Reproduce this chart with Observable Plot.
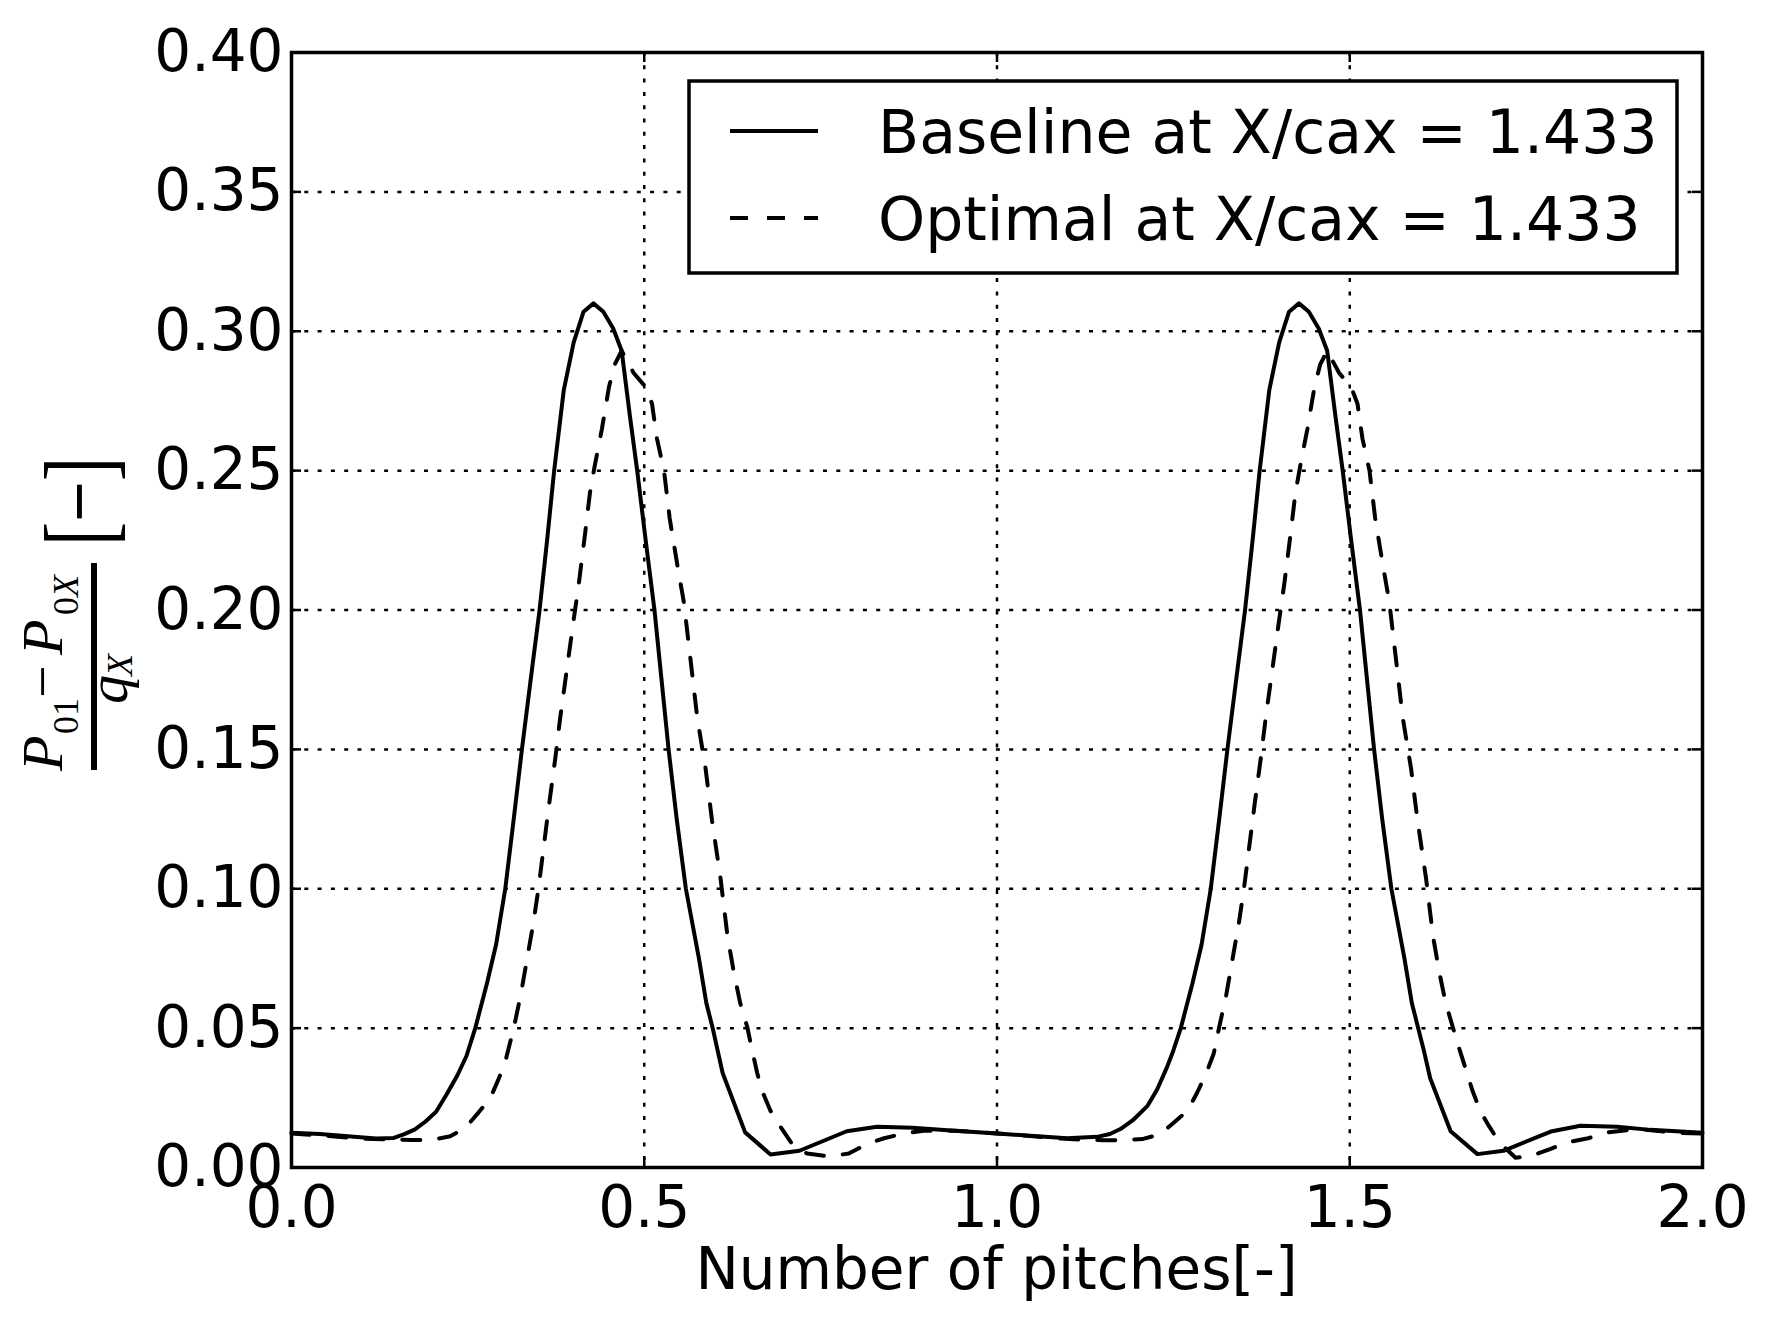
<!DOCTYPE html>
<html>
<head>
<meta charset="utf-8">
<script src="https://cdn.jsdelivr.net/npm/d3@7"></script>
<script src="https://cdn.jsdelivr.net/npm/@observablehq/plot@0.6"></script>
<style>
  html, body { margin: 0; padding: 0; background: white; }
  #chart svg { display: block; }
</style>
</head>
<body>
<div id="chart"></div>
<script>
// ---- tick positions and labels ----
const xTicks = [0, 0.5, 1.0, 1.5, 2.0];
const xTickLabels = ["0.0", "0.5", "1.0", "1.5", "2.0"];
const yTicks = [0, 0.05, 0.10, 0.15, 0.20, 0.25, 0.30, 0.35, 0.40];
const yTickLabels = ["0.00", "0.05", "0.10", "0.15", "0.20", "0.25", "0.30", "0.35", "0.40"];

const seriesNames = ["Baseline at X/cax = 1.433", "Optimal at X/cax = 1.433"];
const xLabel = "Number of pitches[-]";

// ---- Baseline (solid) ----
const baselineX = [
  0.00, 0.04, 0.08, 0.12, 0.145, 0.16, 0.175, 0.19, 0.205, 0.22, 0.235, 0.248, 0.2605, 0.277, 0.29,
  0.303, 0.315, 0.3266, 0.339, 0.3516, 0.3623, 0.3723, 0.386, 0.400, 0.414, 0.428, 0.442, 0.456, 0.468,
  0.480, 0.490, 0.502, 0.5145, 0.5245, 0.5345, 0.546, 0.559, 0.5775, 0.588, 0.597, 0.611, 0.643, 0.679,
  0.720, 0.787, 0.830, 0.880, 0.930,
  1.000, 1.047, 1.0995, 1.142, 1.16, 1.175, 1.194, 1.213, 1.227, 1.241, 1.25, 1.2605, 1.277, 1.29,
  1.303, 1.315, 1.3266, 1.339, 1.3516, 1.3623, 1.3723, 1.386, 1.400, 1.414, 1.428, 1.442, 1.456, 1.468,
  1.480, 1.490, 1.502, 1.5145, 1.5245, 1.5345, 1.546, 1.559, 1.5775, 1.588, 1.597, 1.605, 1.614, 1.643,
  1.681, 1.718, 1.785, 1.827, 1.879, 1.926, 2.000
];
const baselineY = [
  0.0125, 0.0120, 0.0112, 0.0104, 0.0106, 0.0120, 0.0137, 0.0165, 0.0200, 0.0263, 0.0330, 0.0400, 0.0500, 0.0660, 0.0800,
  0.1000, 0.1250, 0.1500, 0.1750, 0.2000, 0.2250, 0.2500, 0.2790, 0.2960, 0.3070, 0.3100, 0.3070, 0.3010, 0.2930,
  0.2690, 0.2500, 0.2250, 0.2000, 0.1750, 0.1500, 0.1250, 0.1000, 0.0750, 0.0590, 0.0500, 0.0340, 0.0126, 0.0047,
  0.0060, 0.0130, 0.0146, 0.0143, 0.0134,
  0.0122, 0.0114, 0.0105, 0.0110, 0.0120, 0.0138, 0.0173, 0.0220, 0.0280, 0.0360, 0.0420, 0.0500, 0.0660, 0.0800,
  0.1000, 0.1250, 0.1500, 0.1750, 0.2000, 0.2250, 0.2500, 0.2790, 0.2960, 0.3070, 0.3100, 0.3070, 0.3010, 0.2930,
  0.2690, 0.2500, 0.2250, 0.2000, 0.1750, 0.1500, 0.1250, 0.1000, 0.0750, 0.0590, 0.0500, 0.0420, 0.0320, 0.0130,
  0.0048, 0.0060, 0.0129, 0.0150, 0.0146, 0.0135, 0.0125
];

// ---- Optimal (dashed) ----
const optimalX = [
  0.00, 0.05, 0.10, 0.14, 0.17, 0.197, 0.225, 0.246, 0.265, 0.282, 0.294, 0.303, 0.315, 0.325, 0.334,
  0.343, 0.350, 0.357, 0.365, 0.374, 0.381, 0.391, 0.400, 0.407, 0.415, 0.423, 0.430, 0.440, 0.450,
  0.458, 0.468, 0.485, 0.502, 0.511, 0.518, 0.528, 0.536, 0.547, 0.556, 0.5657, 0.575, 0.587, 0.596,
  0.608, 0.618, 0.627, 0.636, 0.646, 0.653, 0.660, 0.667, 0.679, 0.692, 0.712, 0.731, 0.760, 0.790,
  0.816, 0.840, 0.868, 0.896, 0.940,
  1.000, 1.043, 1.080, 1.120, 1.151, 1.175, 1.206, 1.232, 1.250, 1.270, 1.284, 1.296, 1.307, 1.315,
  1.325, 1.334, 1.343, 1.350, 1.357, 1.365, 1.374, 1.381, 1.391, 1.400, 1.407, 1.415, 1.423, 1.430,
  1.440, 1.450, 1.458, 1.468, 1.485, 1.502, 1.511, 1.518, 1.528, 1.536, 1.547, 1.556, 1.5657, 1.575,
  1.587, 1.596, 1.608, 1.618, 1.627, 1.636, 1.646, 1.656, 1.666, 1.674, 1.685, 1.697, 1.712, 1.735,
  1.756, 1.784, 1.808, 1.838, 1.866, 1.893, 1.911, 1.958, 2.000
];
const optimalY = [
  0.0122, 0.0113, 0.0104, 0.0100, 0.0099, 0.0098, 0.0112, 0.0141, 0.0197, 0.0250, 0.0320, 0.0380, 0.0500, 0.0620, 0.0750,
  0.0880, 0.1000, 0.1140, 0.1300, 0.1470, 0.1616, 0.1800, 0.1966, 0.2090, 0.2250, 0.2420, 0.2520, 0.2650, 0.2800,
  0.2880, 0.2930, 0.2850, 0.2800, 0.2740, 0.2615, 0.2500, 0.2330, 0.2160, 0.2030, 0.1820, 0.1616, 0.1430, 0.1246,
  0.1040, 0.0830, 0.0700, 0.0590, 0.0504, 0.0420, 0.0340, 0.0275, 0.0203, 0.0150, 0.0075, 0.0050, 0.0040, 0.0050,
  0.0085, 0.0105, 0.0122, 0.0132, 0.0132,
  0.0122, 0.0114, 0.0105, 0.0100, 0.0098, 0.0098, 0.0102, 0.0120, 0.0160, 0.0203, 0.0270, 0.0335, 0.0407, 0.0504,
  0.0620, 0.0750, 0.0880, 0.1000, 0.1140, 0.1300, 0.1470, 0.1616, 0.1800, 0.1966, 0.2090, 0.2250, 0.2420, 0.2520,
  0.2650, 0.2800, 0.2880, 0.2930, 0.2850, 0.2800, 0.2740, 0.2615, 0.2500, 0.2330, 0.2160, 0.2030, 0.1820, 0.1616,
  0.1430, 0.1246, 0.1040, 0.0830, 0.0700, 0.0590, 0.0504, 0.0420, 0.0340, 0.0275, 0.0203, 0.0150, 0.0090, 0.0035,
  0.0040, 0.0066, 0.0090, 0.0105, 0.0126, 0.0134, 0.0138, 0.0125, 0.0122
];

const baselineRows = baselineX.map((x, i) => ({x, y: baselineY[i]}));
const optimalRows = optimalX.map((x, i) => ({x, y: optimalY[i]}));

const W = 1769, H = 1320;
const mL = 291, mR = 67, mT = 52, mB = 153;
const frameW = W - mL - mR, frameH = H - mT - mB;
const tickLen = 10;
const FONT = "DejaVu Sans";

const xLab = new Map(xTicks.map((d, i) => [d, xTickLabels[i]]));
const yLab = new Map(yTicks.map((d, i) => [d, yTickLabels[i]]));

const chart = Plot.plot({
  width: W, height: H,
  marginLeft: mL, marginRight: mR, marginTop: mT, marginBottom: mB,
  style: {fontFamily: FONT, fontSize: "58px", background: "white", color: "black", overflow: "visible"},
  x: {domain: [0, 2]},
  y: {domain: [0, 0.4]},
  marks: [
    // dotted grid
    Plot.ruleY(yTicks.slice(1, -1), {y: d => d, stroke: "black", strokeWidth: 2.5, strokeDasharray: "4,9.3"}),
    Plot.ruleX(xTicks.slice(1, -1), {x: d => d, stroke: "black", strokeWidth: 2.5, strokeDasharray: "4,9.3"}),
    // curves
    Plot.line(baselineRows, {x: "x", y: "y", stroke: "black", strokeWidth: 4, strokeLinejoin: "round"}),
    Plot.line(optimalRows, {x: "x", y: "y", stroke: "black", strokeWidth: 4, strokeDasharray: "18,19", strokeLinejoin: "round"}),
    // inward ticks on all four sides
    Plot.ruleX(xTicks, {x: d => d, insetTop: frameH - tickLen, stroke: "black", strokeWidth: 2.5}),
    Plot.ruleX(xTicks, {x: d => d, insetBottom: frameH - tickLen, stroke: "black", strokeWidth: 2.5}),
    Plot.ruleY(yTicks, {y: d => d, insetRight: frameW - tickLen, stroke: "black", strokeWidth: 2.5}),
    Plot.ruleY(yTicks, {y: d => d, insetLeft: frameW - tickLen, stroke: "black", strokeWidth: 2.5}),
    // tick labels
    Plot.axisX(xTicks, {anchor: "bottom", tickSize: 0, tickPadding: 18, tickFormat: d => xLab.get(d), label: null, fontSize: 58, fill: "black"}),
    Plot.axisY(yTicks, {anchor: "left", tickSize: 0, tickPadding: 8, tickFormat: d => yLab.get(d), label: null, fontSize: 58, fill: "black"}),
    Plot.frame({stroke: "black", strokeWidth: 3.5})
  ]
});
document.getElementById("chart").appendChild(chart);

const svg = d3.select(chart);

// x-axis title
svg.append("text")
  .attr("x", mL + frameW / 2).attr("y", 1289)
  .attr("text-anchor", "middle")
  .attr("font-family", FONT).attr("font-size", 58).attr("fill", "black")
  .text(xLabel);

// legend
const lg = svg.append("g").attr("text-anchor", "start");
lg.append("rect").attr("x", 689).attr("y", 81).attr("width", 988).attr("height", 192)
  .attr("fill", "white").attr("stroke", "black").attr("stroke-width", 3.5);
const legendRows = [{y: 131, dash: null}, {y: 218, dash: "18,19"}];
legendRows.forEach((r, i) => {
  const ln = lg.append("line").attr("x1", 730).attr("x2", 818).attr("y1", r.y).attr("y2", r.y)
    .attr("stroke", "black").attr("stroke-width", 4);
  if (r.dash) ln.attr("stroke-dasharray", r.dash);
  lg.append("text").attr("x", 878).attr("y", r.y + 22).attr("text-anchor", "start")
    .attr("font-family", FONT).attr("font-size", 60).attr("fill", "black")
    .text(seriesNames[i]);
});

// y-axis label: (P01 - P0X) / qX [-], rotated
const SERIF = "Liberation Serif";
svg.append("line").attr("x1", 94).attr("x2", 94).attr("y1", 563).attr("y2", 770)
  .attr("stroke", "black").attr("stroke-width", 6);
const yl = svg.append("g").attr("transform", "rotate(-90)")
  .attr("font-family", SERIF).attr("fill", "black").attr("text-anchor", "start");
// numerator
yl.append("text").attr("x", -771).attr("y", 62).attr("font-size", 58).attr("font-style", "italic").text("P");
yl.append("text").attr("x", -734).attr("y", 78).attr("font-size", 36).text("01");
yl.append("text").attr("x", -698).attr("y", 62).attr("font-size", 58).text("\u2212");
yl.append("text").attr("x", -655).attr("y", 62).attr("font-size", 58).attr("font-style", "italic").text("P");
const sub2 = yl.append("text").attr("x", -615).attr("y", 78).attr("font-size", 36);
sub2.append("tspan").text("0");
sub2.append("tspan").attr("font-style", "italic").text("X");
// denominator
yl.append("text").attr("x", -704).attr("y", 127).attr("font-size", 58).attr("font-style", "italic").text("q");
yl.append("text").attr("x", -676).attr("y", 132).attr("font-size", 36).attr("font-style", "italic").text("X");
// unit bracket
yl.append("text").attr("x", -546).attr("y", 112).attr("font-size", 98)
  .attr("textLength", 89).attr("lengthAdjust", "spacingAndGlyphs").text("[\u2212]");
</script>
</body>
</html>
